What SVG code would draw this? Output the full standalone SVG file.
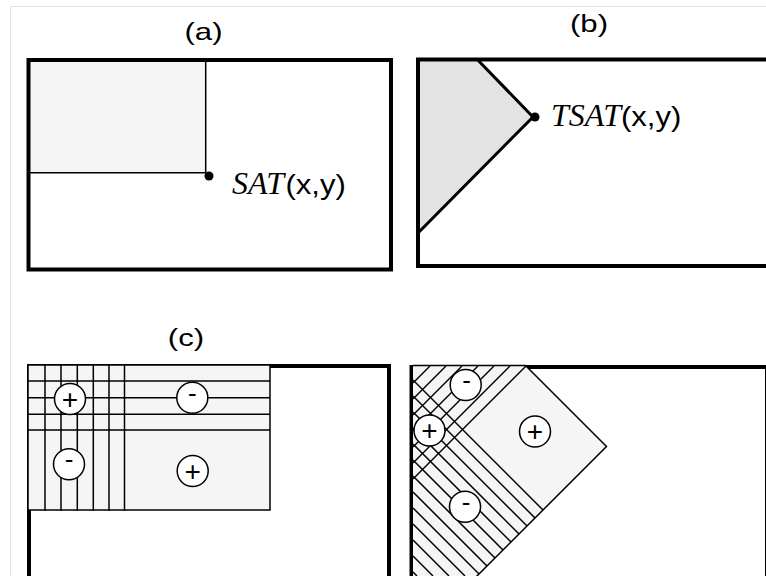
<svg xmlns="http://www.w3.org/2000/svg" width="766" height="576" viewBox="0 0 766 576">
<style>
.frame{stroke:#e2e2e2;stroke-width:1;fill:none}
.border{fill:none;stroke:#000;stroke-width:4}
.thin{stroke:#000;stroke-width:1.5;fill:none}
.shade{fill:#f5f5f5}
.lbl{font-family:"Liberation Sans",Arial,sans-serif;font-size:24px;fill:#000;text-anchor:middle}
.sans{font-family:"Liberation Sans",Arial,sans-serif;font-size:27px;fill:#000}
.it{font-family:"Liberation Serif","Times New Roman",serif;font-style:italic;font-size:32px;fill:#000}
.dot{fill:#000}
.hatch line{stroke:#000;stroke-width:1.5}
.sign circle{fill:#fff;stroke:#000;stroke-width:1.5}
.sign text{font-family:"Liberation Sans",Arial,sans-serif;fill:#000;text-anchor:middle}
.plus text{font-size:28px}
.minus text{font-size:26px}
</style>
<rect x="0" y="0" width="766" height="576" fill="#fff"/>
<g id="frame">
<polyline class="frame" points="766,6.5 10.5,6.5 10.5,576"/>
</g>

<g id="panel-a">
<text class="lbl" transform="translate(203.5,39.5) scale(1.3,1)" x="0" y="0">(a)</text>
<rect class="shade" x="28.5" y="60" width="177.2" height="112.7"/>
<polyline class="thin" points="205.7,60 205.7,172.7 28.5,172.7"/>
<rect class="border" x="28.5" y="60" width="362.5" height="209.5"/>
<circle class="dot" cx="209" cy="176" r="4.5"/>
<text class="it" x="232" y="193.5">SAT</text>
<text class="sans" transform="translate(285.5,193.5) scale(1.15,1)" x="0" y="0">(x,y)</text>
</g>

<g id="panel-b">
<text class="lbl" transform="translate(589,32) scale(1.3,1)" x="0" y="0">(b)</text>
<polygon points="418,59.5 477.3,59.5 533,117 418,233" fill="#e3e3e3"/>
<polyline points="477.3,59.5 533,117 418,233" fill="none" stroke="#000" stroke-width="3"/>
<rect class="border" x="418" y="59.5" width="400" height="206.5"/>
<circle class="dot" cx="535" cy="117" r="4.5"/>
<text class="it" x="551" y="125.5">TSAT</text>
<text class="sans" transform="translate(621,125.5) scale(1.15,1)" x="0" y="0">(x,y)</text>
</g>

<g id="panel-c">
<text class="lbl" transform="translate(186,345.5) scale(1.3,1)" x="0" y="0">(c)</text>
<rect class="border" x="29" y="366" width="360" height="260"/>
<rect class="shade thin" x="28" y="365" width="242" height="145" style="fill:#f5f5f5"/>
<g class="hatch">
<line x1="45" y1="365" x2="45" y2="511"/>
<line x1="61" y1="365" x2="61" y2="511"/>
<line x1="77.3" y1="365" x2="77.3" y2="511"/>
<line x1="93.3" y1="365" x2="93.3" y2="511"/>
<line x1="109" y1="365" x2="109" y2="511"/>
<line x1="124.5" y1="365" x2="124.5" y2="511"/>
<line x1="28" y1="381" x2="270" y2="381"/>
<line x1="28" y1="397.7" x2="270" y2="397.7"/>
<line x1="28" y1="414.3" x2="270" y2="414.3"/>
<line x1="28" y1="430" x2="270" y2="430"/>
</g>
<g class="sign plus"><circle cx="70" cy="399" r="15.5"/><text x="70" y="408.5">+</text></g>
<g class="sign minus"><circle cx="192.3" cy="397.7" r="15.5"/><text x="192.3" y="401.7">-</text></g>
<g class="sign minus"><circle cx="69" cy="464.3" r="15.5"/><text x="69" y="468.3">-</text></g>
<g class="sign plus"><circle cx="192.7" cy="471" r="15.5"/><text x="192.7" y="480.5">+</text></g>
</g>

<g id="panel-d">
<rect class="border" x="411.5" y="367" width="355.5" height="260"/>
<polygon class="shade" points="413,365.5 525.5,365.5 606.5,446.5 476,577 413,577"/>
<polyline class="thin" points="413,365.5 525.5,365.5 606.5,446.5 476,577"/>
<g class="hatch">
<line x1="430" y1="366" x2="413" y2="383"/>
<line x1="446" y1="366" x2="413" y2="399"/>
<line x1="462" y1="366" x2="413" y2="415"/>
<line x1="478" y1="366" x2="413" y2="431"/>
<line x1="494" y1="366" x2="413" y2="447"/>
<line x1="510" y1="366" x2="413" y2="463"/>
<line x1="526" y1="366" x2="413" y2="479"/>
<line x1="413" y1="380" x2="543" y2="510"/>
<line x1="413" y1="396" x2="535" y2="518"/>
<line x1="413" y1="412" x2="527" y2="526"/>
<line x1="413" y1="428" x2="519" y2="534"/>
<line x1="413" y1="444" x2="511" y2="542"/>
<line x1="413" y1="460" x2="503" y2="550"/>
<line x1="413" y1="476" x2="495" y2="558"/>
<line x1="413" y1="492" x2="487" y2="566"/>
<line x1="413" y1="508" x2="479" y2="574"/>
<line x1="413" y1="524" x2="465" y2="576"/>
<line x1="413" y1="540" x2="449" y2="576"/>
<line x1="413" y1="556" x2="433" y2="576"/>
<line x1="413" y1="572" x2="417" y2="576"/>
</g>
<g class="sign minus"><circle cx="465.7" cy="385" r="15.5"/><text x="466.5" y="389">-</text></g>
<g class="sign plus"><circle cx="429.5" cy="430.5" r="15.5"/><text x="429.5" y="440">+</text></g>
<g class="sign plus"><circle cx="535" cy="431.5" r="15.5"/><text x="535" y="441">+</text></g>
<g class="sign minus"><circle cx="465" cy="506.7" r="15.5"/><text x="466" y="510.7">-</text></g>
</g>
</svg>
